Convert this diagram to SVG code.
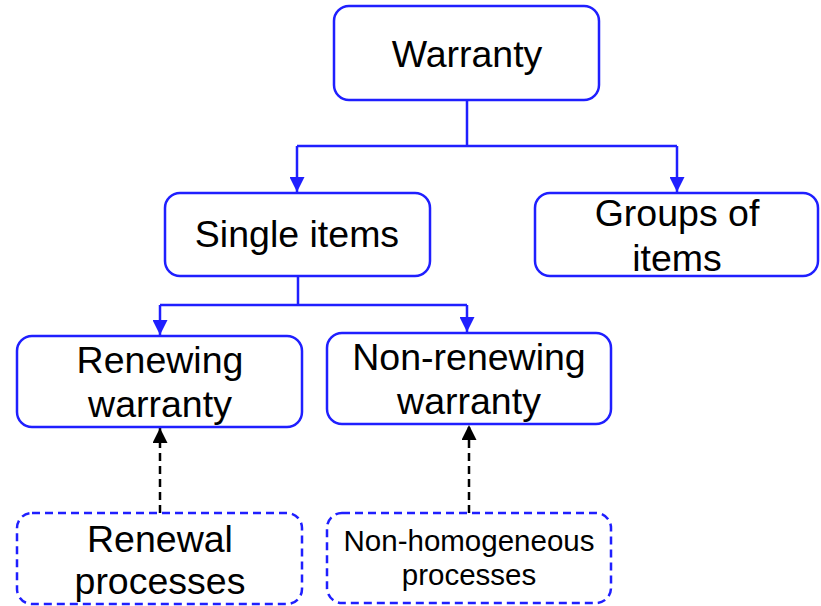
<svg xmlns="http://www.w3.org/2000/svg" width="821" height="606" viewBox="0 0 821 606">
<defs>
<marker id="ab" markerWidth="15" markerHeight="15" refX="15" refY="7.5" orient="auto" markerUnits="userSpaceOnUse"><path d="M0,0 L15,7.5 L0,15 Z" fill="#1f1fff"/></marker>
<marker id="ak" markerWidth="15" markerHeight="15" refX="15" refY="7.5" orient="auto" markerUnits="userSpaceOnUse"><path d="M0,0 L15,7.5 L0,15 Z" fill="#000"/></marker>
</defs>
<style>
.box{fill:#fff;stroke:#1f1fff;stroke-width:2.5}
.dbox{fill:#fff;stroke:#1f1fff;stroke-width:2.5;stroke-dasharray:8 5}
.t{font-family:"Liberation Sans",Arial,sans-serif;font-size:37.5px;fill:#000;text-anchor:middle}
.s{font-size:29.5px}
.c{fill:none;stroke:#1f1fff;stroke-width:2.5}
.d{fill:none;stroke:#000;stroke-width:2.5;stroke-dasharray:8 5}
</style>
<g id="connectors">
<path class="c" d="M467,100 V146 M297,146 H677"/>
<path class="c" d="M297,146 V192" marker-end="url(#ab)"/>
<path class="c" d="M677,146 V192" marker-end="url(#ab)"/>
<path class="c" d="M298,276 V305 M160,305 H467"/>
<path class="c" d="M160,305 V335" marker-end="url(#ab)"/>
<path class="c" d="M467,305 V332" marker-end="url(#ab)"/>
<path class="d" d="M160,513 V428" marker-end="url(#ak)"/>
<path class="d" d="M469,513 V425" marker-end="url(#ak)"/>
</g>
<g id="warranty"><rect class="box" x="334" y="6" width="265" height="94" rx="15"/><text class="t" x="467" y="67">Warranty</text></g>
<g id="single"><rect class="box" x="165" y="193" width="265" height="83" rx="15"/><text class="t" x="297" y="247">Single items</text></g>
<g id="groups"><rect class="box" x="535" y="193" width="283" height="83" rx="15"/><text class="t" x="677" y="226">Groups of</text><text class="t" x="677" y="271">items</text></g>
<g id="renewing"><rect class="box" x="17" y="336" width="285" height="91" rx="15"/><text class="t" x="160" y="373">Renewing</text><text class="t" x="160" y="417">warranty</text></g>
<g id="nonrenewing"><rect class="box" x="327" y="333" width="284" height="91" rx="15"/><text class="t" x="469" y="370">Non-renewing</text><text class="t" x="469" y="414">warranty</text></g>
<g id="renewal"><rect class="dbox" x="17" y="513" width="285" height="91" rx="15"/><text class="t" x="160" y="552">Renewal</text><text class="t" x="160" y="594">processes</text></g>
<g id="nonhomogeneous"><rect class="dbox" x="327" y="513" width="284" height="90" rx="15"/><text class="t s" x="469" y="551">Non-homogeneous</text><text class="t s" x="469" y="585">processes</text></g>
</svg>
